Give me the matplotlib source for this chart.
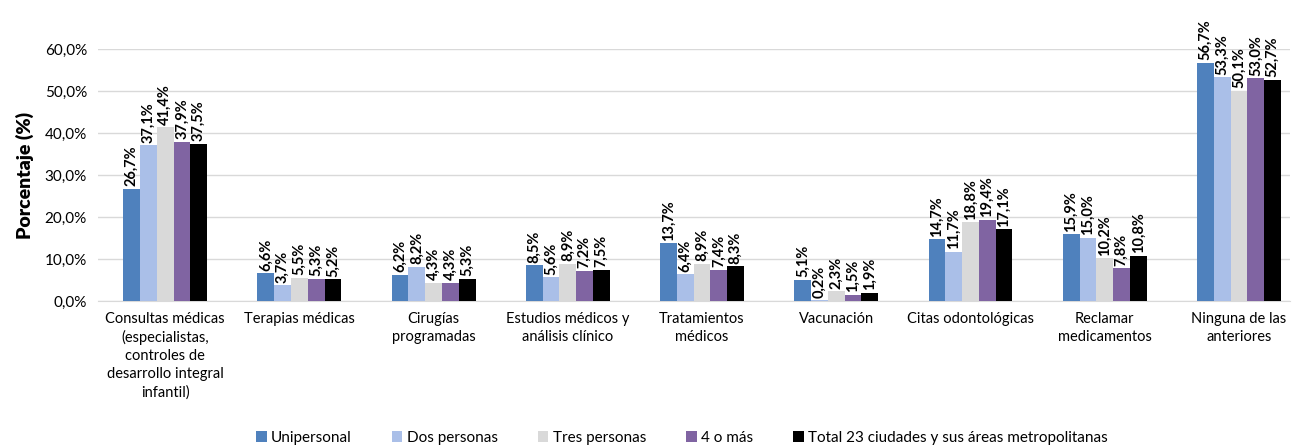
import matplotlib.pyplot as plt
import numpy as np

plt.rcParams['font.family'] = ['Lato', 'DejaVu Sans']

categorias = ['Consultas médicas\n(especialistas,\ncontroles de\ndesarrollo integral\ninfantil)',
              'Terapias médicas', 'Cirugías\nprogramadas', 'Estudios médicos y\nanálisis clínico',
              'Tratamientos\nmédicos', 'Vacunación', 'Citas odontológicas',
              'Reclamar\nmedicamentos', 'Ninguna de las\nanteriores']
series = ['Unipersonal', 'Dos personas', 'Tres personas', '4 o más',
          'Total 23 ciudades y sus áreas metropolitanas']
unipersonal = [26.7, 6.6, 6.2, 8.5, 13.7, 5.1, 14.7, 15.9, 56.7]
dos_personas = [37.1, 3.7, 8.2, 5.6, 6.4, 0.2, 11.7, 15.0, 53.3]
tres_personas = [41.4, 5.5, 4.3, 8.9, 8.9, 2.3, 18.8, 10.2, 50.1]
cuatro_o_mas = [37.9, 5.3, 4.3, 7.2, 7.4, 1.5, 19.4, 7.8, 53.0]
total = [37.5, 5.2, 5.3, 7.5, 8.3, 1.9, 17.1, 10.8, 52.7]
valores = [unipersonal, dos_personas, tres_personas, cuatro_o_mas, total]
colores = ['#4F81BD', '#AABFE8', '#D9D9D9', '#8064A2', '#000000']

fig = plt.figure(figsize=(12.99, 4.47), dpi=100)
ax = fig.add_axes([98/1299, 146/447, 1192/1299, 252/447])

x = np.arange(len(categorias))
ancho = 0.125
for i in range(len(series)):
    pos = x + (i - 2) * ancho
    ax.bar(pos, valores[i], ancho, color=colores[i], label=series[i], zorder=3)
    for p, v in zip(pos, valores[i]):
        ax.text(p, v + 0.6, ('%.1f%%' % v).replace('.', ','), rotation=90,
                ha='center', va='bottom', fontsize=10.5, fontweight='bold')

ax.set_xlim(-0.5, 8.38)
ax.set_ylim(0, 60)
ax.set_yticks(np.arange(0, 61, 10))
ax.set_yticklabels([('%.1f%%' % t).replace('.', ',') for t in np.arange(0, 61, 10)], fontsize=11)
ax.set_xticks(x)
ax.set_xticklabels(categorias, fontsize=10.5, linespacing=1.35)
ax.tick_params(axis='both', length=0, pad=8)
ax.grid(axis='y', color='#D9D9D9', linewidth=1, zorder=0)
for s in ['top', 'right', 'left']:
    ax.spines[s].set_visible(False)
ax.spines['bottom'].set_color('#D9D9D9')
ax.set_ylabel('Porcentaje (%)', fontsize=14, fontweight='heavy', labelpad=8)

ax.legend(loc='lower center', bbox_to_anchor=(0.49, -0.625), ncol=5, frameon=False,
          fontsize=11, handlelength=0.7, handleheight=0.7, handletextpad=0.3, columnspacing=2.6)

plt.savefig('out.png')
